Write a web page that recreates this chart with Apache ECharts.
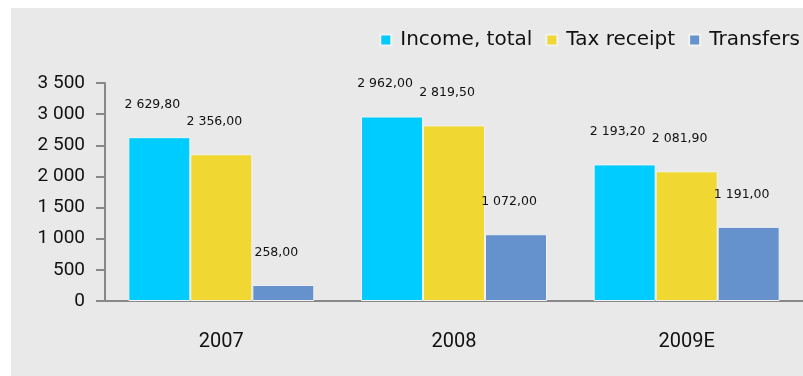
<!DOCTYPE html>
<html>
<head>
<meta charset="utf-8">
<script src="https://cdn.jsdelivr.net/npm/echarts@6/dist/echarts.min.js"></script>
<style>
  html, body { margin: 0; padding: 0; background: #ffffff; }
  #chart { width: 803px; height: 376px; }
</style>
</head>
<body>
<div id="chart"></div>
<script>
// Budget income by year, broken down by source
const categories = ['2007', '2008', '2009E'];
const incomeTotal = [2629.80, 2962.00, 2193.20];
const taxReceipt = [2356.00, 2819.50, 2081.90];
const transfers = [258.00, 1072.00, 1191.00];
const seriesNames = ['Income, total', 'Tax receipt', 'Transfers'];
const colors = ['#00CCFF', '#F0D732', '#6592CC'];

// "2 629,80" style: space as thousands separator, comma as decimal mark
function fmtValue(v) {
  const parts = v.toFixed(2).split('.');
  const intPart = parts[0].replace(/\B(?=(\d{3})+(?!\d))/g, ' ');
  return intPart + ',' + parts[1];
}
function fmtTick(v) {
  return String(v).replace(/\B(?=(\d{3})+(?!\d))/g, ' ');
}

const chart = echarts.init(document.getElementById('chart'), null, { renderer: 'canvas' });

function barSeries(name, data, color) {
  return {
    name: name,
    type: 'bar',
    data: data,
    barWidth: 62,
    barGap: '0%',
    itemStyle: { color: color, borderColor: '#f2f2f2', borderWidth: 1 },
    label: {
      show: true,
      position: 'top',
      offset: [-7, -21],
      fontFamily: 'DejaVu Sans',
      fontSize: 12.5,
      color: '#111',
      formatter: p => fmtValue(p.value)
    }
  };
}

chart.setOption({
  backgroundColor: '#ffffff',
  animation: false,
  color: colors,
  graphic: [{
    type: 'rect',
    z: -10,
    shape: { x: 11, y: 8, width: 800, height: 380 },
    style: { fill: '#e9e9e9' }
  }],
  legend: {
    data: seriesNames,
    top: 30,
    right: 3,
    padding: 0,
    itemWidth: 11,
    itemHeight: 11,
    itemGap: 13,
    icon: 'rect',
    textStyle: { fontFamily: 'DejaVu Sans', fontSize: 20, color: '#111', padding: [0, 0, 0, 4] }
  },
  grid: { left: 105, right: -7, top: 83, bottom: 75, containLabel: false },
  xAxis: {
    type: 'category',
    data: categories,
    axisLine: { lineStyle: { color: '#888', width: 2 } },
    axisTick: { show: false },
    axisLabel: { margin: 31, fontFamily: 'Roboto', fontSize: 20, color: '#111' }
  },
  yAxis: {
    type: 'value',
    min: 0,
    max: 3500,
    interval: 500,
    splitLine: { show: false },
    axisLine: { show: true, lineStyle: { color: '#888', width: 2 } },
    axisTick: { show: true, length: 9, lineStyle: { color: '#888', width: 2 } },
    axisLabel: { margin: 20, fontFamily: 'Roboto', fontSize: 19, color: '#111', formatter: fmtTick }
  },
  series: [
    barSeries(seriesNames[0], incomeTotal, colors[0]),
    barSeries(seriesNames[1], taxReceipt, colors[1]),
    barSeries(seriesNames[2], transfers, colors[2])
  ]
});
</script>
</body>
</html>
